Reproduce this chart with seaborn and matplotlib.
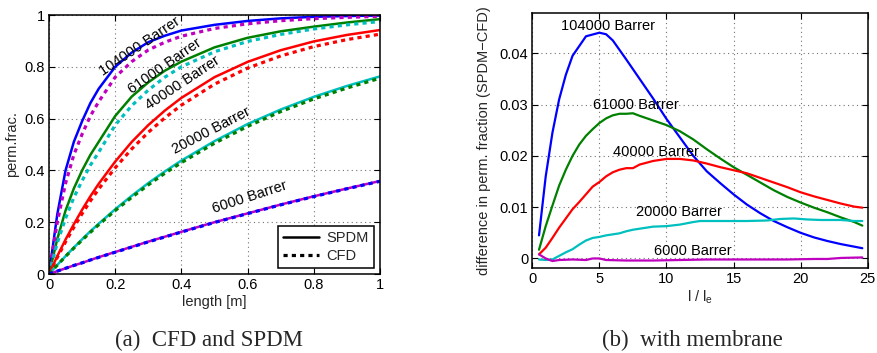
import numpy as np
import pandas as pd
import matplotlib
matplotlib.use("Agg")
import matplotlib.pyplot as plt
import seaborn as sns
from matplotlib.ticker import FuncFormatter
from matplotlib.lines import Line2D

# ---------------- data: panel (a) ----------------
length_m = [0, 0.025, 0.05, 0.075, 0.1, 0.125, 0.15, 0.2, 0.25, 0.3, 0.35, 0.4,
            0.5, 0.6, 0.7, 0.8, 0.9, 1.0]

spdm_104000 = [0, 0.23, 0.40, 0.51, 0.59, 0.66, 0.715, 0.80, 0.855, 0.895, 0.92, 0.94,
               0.962, 0.977, 0.987, 0.993, 0.996, 0.998]
cfd_104000 = [0, 0.20, 0.35, 0.46, 0.54, 0.61, 0.665, 0.76, 0.82, 0.865, 0.895, 0.918,
              0.948, 0.966, 0.978, 0.986, 0.991, 0.995]
spdm_61000 = [0, 0.135, 0.245, 0.33, 0.40, 0.46, 0.51, 0.61, 0.685, 0.74, 0.785, 0.82,
              0.875, 0.912, 0.937, 0.955, 0.971, 0.984]
cfd_61000 = [0, 0.12, 0.215, 0.295, 0.36, 0.42, 0.47, 0.575, 0.65, 0.71, 0.76, 0.80,
             0.858, 0.898, 0.925, 0.946, 0.962, 0.975]
spdm_40000 = [0, 0.069, 0.133, 0.192, 0.248, 0.30, 0.348, 0.434, 0.51, 0.575, 0.631, 0.68,
              0.76, 0.819, 0.864, 0.898, 0.923, 0.942]
cfd_40000 = [0, 0.064, 0.124, 0.18, 0.233, 0.282, 0.328, 0.41, 0.483, 0.547, 0.603, 0.652,
             0.733, 0.795, 0.842, 0.878, 0.905, 0.926]
spdm_20000 = [0, 0.035, 0.069, 0.102, 0.134, 0.165, 0.194, 0.25, 0.302, 0.351, 0.396, 0.438,
              0.513, 0.579, 0.635, 0.684, 0.726, 0.763]
cfd_20000 = [0, 0.034, 0.068, 0.10, 0.131, 0.161, 0.19, 0.245, 0.296, 0.344, 0.389, 0.43,
             0.505, 0.57, 0.627, 0.676, 0.718, 0.756]
spdm_6000 = [0, 0.011, 0.022, 0.033, 0.043, 0.054, 0.065, 0.085, 0.105, 0.125, 0.144, 0.163,
             0.20, 0.234, 0.268, 0.30, 0.33, 0.359]
cfd_6000 = [0, 0.011, 0.022, 0.033, 0.043, 0.054, 0.064, 0.084, 0.104, 0.124, 0.143, 0.162,
            0.199, 0.233, 0.267, 0.299, 0.329, 0.358]

labels_a = ["104000 Barrer", "61000 Barrer", "40000 Barrer", "20000 Barrer", "6000 Barrer"]

# ---------------- data: panel (b) ----------------
x_104000 = [0.5, 1.0, 1.5, 2.0, 2.5, 3.0, 4.0, 5.0, 5.5, 6.0, 7.0, 8.0, 9.0, 10.0, 11.0,
            12.0, 13.0, 14.0, 15.0, 16.0, 17.0, 18.0, 19.0, 20.0, 21.0, 22.0, 23.0, 24.0, 24.6]
d_104000 = [0.0045, 0.016, 0.0245, 0.031, 0.0358, 0.0395, 0.0433, 0.0440, 0.0437, 0.0425,
            0.0388, 0.0350, 0.0312, 0.0272, 0.0236, 0.0200, 0.0170, 0.0147, 0.0125, 0.0105,
            0.0088, 0.0073, 0.0061, 0.0050, 0.0041, 0.0034, 0.0028, 0.0023, 0.0020]

x_61000 = [0.5, 1.0, 1.5, 2.0, 2.5, 3.0, 3.5, 4.0, 4.5, 5.0, 5.5, 6.0, 6.5, 7.0, 7.5, 8.0,
           9.0, 10.0, 11.0, 12.0, 13.0, 14.0, 15.0, 16.0, 17.0, 18.0, 19.0, 20.0, 21.0,
           22.0, 23.0, 24.0, 24.6]
d_61000 = [0.0017, 0.0063, 0.0103, 0.0142, 0.0173, 0.0200, 0.0222, 0.0239, 0.0252, 0.0264,
           0.0273, 0.0279, 0.0282, 0.0282, 0.0283, 0.0278, 0.0269, 0.0260, 0.0248, 0.0232,
           0.0213, 0.0195, 0.0178, 0.0163, 0.0148, 0.0133, 0.0120, 0.0109, 0.0099, 0.0090,
           0.0080, 0.0071, 0.0064]

x_40000 = [0.5, 1.0, 1.5, 2.0, 2.5, 3.0, 3.5, 4.0, 4.5, 5.0, 5.5, 6.0, 6.5, 7.0, 7.5, 8.0,
           9.0, 10.0, 11.0, 12.0, 13.0, 14.0, 15.0, 16.0, 17.0, 18.0, 19.0, 20.0, 21.0,
           22.0, 23.0, 24.0, 24.6]
d_40000 = [0.0008, 0.0021, 0.0040, 0.0060, 0.0078, 0.0096, 0.0110, 0.0125, 0.0140, 0.0149,
           0.0160, 0.0168, 0.0173, 0.0176, 0.0176, 0.0183, 0.0190, 0.0194, 0.0194, 0.0191,
           0.0185, 0.0178, 0.0172, 0.0166, 0.0157, 0.0148, 0.0139, 0.0129, 0.0121, 0.0114,
           0.0107, 0.0101, 0.0099]

x_20000 = [0.5, 1.0, 1.5, 2.0, 2.5, 3.0, 3.5, 4.0, 4.5, 5.0, 5.5, 6.0, 6.5, 7.0, 7.5, 8.0,
           9.0, 10.0, 11.0, 12.0, 12.5, 14.0, 16.0, 17.5, 18.5, 19.5, 20.5, 21.5, 23.0,
           24.0, 24.6]
d_20000 = [-0.0002, -0.0003, -0.0002, 0.0005, 0.0012, 0.0018, 0.0027, 0.0035, 0.0040,
           0.0042, 0.0045, 0.0047, 0.0049, 0.0053, 0.0056, 0.0058, 0.0062, 0.0063, 0.0066,
           0.0071, 0.0073, 0.0073, 0.0073, 0.0074, 0.0077, 0.0078, 0.0076, 0.0075, 0.0075,
           0.0073, 0.0073]

x_6000 = [0.5, 1.0, 1.5, 2.0, 3.0, 4.0, 4.5, 5.0, 5.5, 7.0, 9.0, 11.0, 13.0, 15.0, 17.0,
          19.0, 21.0, 22.0, 23.0, 24.6]
d_6000 = [0.0008, 0.0000, -0.0005, -0.0003, -0.0002, -0.0003, 0.0000, 0.0000, -0.0003,
          -0.0004, -0.0004, -0.0003, -0.0002, -0.0002, -0.0002, -0.0002, -0.0001, -0.0001,
          0.0001, 0.0002]

labels_b = ["104000 Barrer", "61000 Barrer", "40000 Barrer", "20000 Barrer", "6000 Barrer"]

# ---------------- style ----------------
sns.set_theme(style="ticks")
plt.rcParams["font.family"] = ["Liberation Sans", "DejaVu Sans"]
plt.rcParams["mathtext.fontset"] = "custom"
plt.rcParams["mathtext.rm"] = "Liberation Sans"
FS = 10.5

B, G, R, C, M = "#0000ff", "#008000", "#ff0000", "#00bfbf", "#bf00bf"
DOT = (0, (1.3, 1.3))

fig = plt.figure(figsize=(8.77, 3.53), dpi=100)
axA = fig.add_axes([49 / 877, 1 - 274 / 353, 331 / 877, 259 / 353])
axB = fig.add_axes([532.3 / 877, 1 - 267.7 / 353, 335.4 / 877, 255 / 353])

def fmt(v, pos):
    s = "%g" % round(v, 6)
    return "0" if s in ("-0", "0") else s

for ax in (axA, axB):
    ax.grid(True, linestyle=(0, (1, 3)), color="0.45", linewidth=0.8)
    ax.tick_params(direction="in", length=4, width=0.8, top=True, right=True,
                   labelsize=FS, pad=3, colors="black")
    for sp in ax.spines.values():
        sp.set_visible(True)
        sp.set_linewidth(1.1)
        sp.set_color("black")
    ax.set_facecolor("white")
    ax.xaxis.set_major_formatter(FuncFormatter(fmt))
    ax.yaxis.set_major_formatter(FuncFormatter(fmt))

# ---- panel (a)
pairs = [(spdm_104000, B, cfd_104000, M),
         (spdm_61000, G, cfd_61000, C),
         (spdm_40000, R, cfd_40000, R),
         (spdm_20000, C, cfd_20000, G),
         (spdm_6000, M, cfd_6000, B)]
for s, cs, c, cc in pairs:
    sns.lineplot(x=length_m, y=s, ax=axA, color=cs, linewidth=1.8, sort=False)
for s, cs, c, cc in pairs:
    sns.lineplot(x=length_m, y=c, ax=axA, color=cc, linewidth=2.3, sort=False,
                 linestyle=DOT, dash_capstyle="butt")

axA.set_xlim(0, 1)
axA.set_ylim(0, 1)
axA.set_xticks([0, 0.2, 0.4, 0.6, 0.8, 1.0])
axA.set_yticks([0, 0.2, 0.4, 0.6, 0.8, 1.0])
axA.set_xlabel("length [m]", fontsize=FS, labelpad=2)
axA.set_ylabel("perm.frac.", fontsize=FS, labelpad=4)

pos_a = [(0.275, 0.88, 34), (0.35, 0.803, 35), (0.404, 0.736, 33.5),
         (0.49, 0.552, 27.5), (0.607, 0.296, 18)]
for lab, (x, y, r) in zip(labels_a, pos_a):
    axA.text(x, y, lab, rotation=r, rotation_mode="anchor", ha="center", va="center",
             fontsize=FS, color="black")

handles = [Line2D([], [], color="black", linewidth=1.8),
           Line2D([], [], color="black", linewidth=2.3, linestyle=DOT, dash_capstyle="butt")]
leg = axA.legend(handles, ["SPDM", "CFD"], loc="lower right", fontsize=FS,
                 handlelength=2.5, handletextpad=0.5, borderaxespad=0.4,
                 fancybox=False, framealpha=1, edgecolor="black", borderpad=0.35,
                 labelspacing=0.25)
leg.get_frame().set_linewidth(1.1)

# ---- panel (b)
series_b = [(x_104000, d_104000, B), (x_61000, d_61000, G), (x_40000, d_40000, R),
            (x_20000, d_20000, C), (x_6000, d_6000, M)]
for xs, ys, col in series_b:
    sns.lineplot(x=xs, y=ys, ax=axB, color=col, linewidth=1.6, sort=False)

axB.set_xlim(0, 25)
axB.set_ylim(-0.0018, 0.0479)
axB.set_xticks([0, 5, 10, 15, 20, 25])
axB.set_yticks([0, 0.01, 0.02, 0.03, 0.04])
axB.set_xlabel(r"l / l$_\mathregular{e}$", fontsize=FS, labelpad=2)
axB.set_ylabel("difference in perm. fraction (SPDM\u2212CFD)", fontsize=FS, labelpad=6)

pos_b = [(5.67, 0.0453), (7.73, 0.0300), (9.22, 0.0207), (10.96, 0.0090), (11.94, 0.0015)]
for lab, (x, y) in zip(labels_b, pos_b):
    axB.text(x, y, lab, ha="center", va="center", fontsize=FS, color="black")

# ---- captions
fig.text(209 / 877, 1 - 340 / 353, "(a)  CFD and SPDM", ha="center", va="center",
         fontsize=16.5, family=["Liberation Serif", "DejaVu Serif"])
fig.text(692 / 877, 1 - 340 / 353, "(b)  with membrane", ha="center", va="center",
         fontsize=16.5, family=["Liberation Serif", "DejaVu Serif"])

fig.savefig("out.png", dpi=100, facecolor="white")
